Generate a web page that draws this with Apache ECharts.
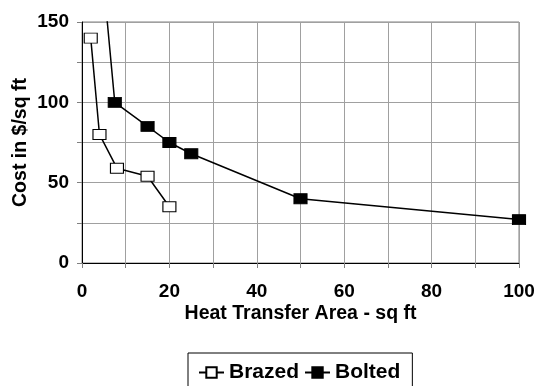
<!DOCTYPE html>
<html>
<head>
<meta charset="utf-8">
<script src="https://cdn.jsdelivr.net/npm/echarts@6/dist/echarts.min.js"></script>
<style>
  html, body { margin: 0; padding: 0; background: #fff; }
  #chart { width: 534px; height: 386px; }
</style>
</head>
<body>
<div id="chart"></div>
<script>
// area (sq ft) vs cost ($/sq ft)
var brazedX = [2, 4, 8, 15, 20]
var brazedY = [140, 80, 59, 54, 35]
var boltedX = [5, 7.5, 15, 20, 25, 50, 100]
var boltedY = [173, 100, 85, 75, 68, 40, 27]

var pairs = function (xs, ys) {
  return xs.map((x, i) => [x, ys[i]])
}

var font = 'Liberation Sans, Arial, sans-serif'
var chart = echarts.init(document.getElementById('chart'))

var option = {
  animation: false,
  grid: {
    left: 82,
    right: 15,
    top: 22,
    bottom: 123,
    outerBoundsMode: 'none',
    containLabel: false,
    show: true,
    borderColor: '#808080',
    borderWidth: 1
  },
  legend: {
    top: 353,
    left: 188,
    itemGap: 5,
    itemWidth: 25,
    itemHeight: 13,
    padding: [9, 12, 10, 10],
    borderColor: '#000',
    borderWidth: 1,
    textStyle: { fontFamily: font, fontWeight: 'bold', fontSize: 21, color: '#000' },
    data: ['Brazed', 'Bolted']
  },
  xAxis: {
    type: 'value',
    min: 0,
    max: 100,
    interval: 10,
    name: 'Heat Transfer Area - sq ft',
    nameLocation: 'middle',
    nameGap: 41,
    nameMoveOverlap: false,
    nameTextStyle: { fontFamily: font, fontWeight: 'bold', fontSize: 19.5, color: '#000' },
    axisLine: { lineStyle: { color: '#000', width: 1 } },
    axisTick: { show: true, length: 5, lineStyle: { color: '#808080' } },
    axisLabel: {
      fontFamily: font, fontWeight: 'bold', fontSize: 19, color: '#000', margin: 19,
      formatter: function (v) { return v % 20 === 0 ? v : '' }
    },
    splitLine: { lineStyle: { color: '#a0a0a0', width: 1 } }
  },
  yAxis: {
    type: 'value',
    min: 0,
    max: 150,
    interval: 25,
    name: 'Cost in $/sq ft',
    nameLocation: 'middle',
    nameGap: 51,
    nameMoveOverlap: false,
    nameTextStyle: { fontFamily: font, fontWeight: 'bold', fontSize: 19.5, color: '#000' },
    axisLine: { show: true, lineStyle: { color: '#000', width: 1 } },
    axisTick: { show: true, length: 5, lineStyle: { color: '#808080' } },
    axisLabel: {
      fontFamily: font, fontWeight: 'bold', fontSize: 19, color: '#000', margin: 13,
      formatter: function (v) { return v % 50 === 0 ? v : '' }
    },
    splitLine: { lineStyle: { color: '#a0a0a0', width: 1 } }
  },
  series: [
    {
      name: 'Brazed',
      type: 'line',
      data: pairs(brazedX, brazedY),
      symbol: 'rect',
      symbolSize: [13, 10],
      lineStyle: { color: '#000', width: 1.5 },
      itemStyle: { color: '#fff', borderColor: '#000', borderWidth: 1 }
    },
    {
      name: 'Bolted',
      type: 'line',
      data: pairs(boltedX, boltedY),
      symbol: 'rect',
      symbolSize: [13, 10],
      clip: true,
      lineStyle: { color: '#000', width: 1.5 },
      itemStyle: { color: '#000', borderColor: '#000', borderWidth: 1 }
    }
  ]
}
chart.setOption(option)
</script>
</body>
</html>
